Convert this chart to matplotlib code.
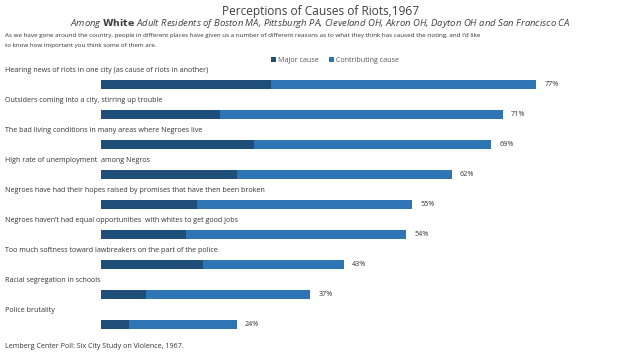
import matplotlib
matplotlib.use("Agg")
import matplotlib.pyplot as plt
import matplotlib.transforms as mtransforms

categories = [
    "Hearing news of riots in one city (as cause of riots in another)",
    "Outsiders coming into a city, stirring up trouble",
    "The bad living conditions in many areas where Negroes live",
    "High rate of unemployment  among Negros",
    "Negroes have had their hopes raised by promises that have then been broken",
    "Negroes haven\u2019t had equal opportunities  with whites to get good jobs",
    "Too much softness toward lawbreakers on the part of the police",
    "Racial segregation in schools",
    "Police brutality",
]
totals = [77, 71, 69, 62, 55, 54, 43, 37, 24]
major = [30, 21, 27, 24, 17, 15, 18, 8, 5]
contributing = [t - m for t, m in zip(totals, major)]

dark = "#1F4E79"
light = "#2E75B6"

plt.rcParams['font.family'] = ['Open Sans', 'DejaVu Sans']

fig = plt.figure(figsize=(6.4, 3.6), dpi=100)
W, H = 640, 360
left_px, right_px, top_px, bot_px = 101, 610, 70, 340
ax = fig.add_axes([left_px / W, 1 - bot_px / H, (right_px - left_px) / W, (bot_px - top_px) / H])
ax.set_xlim(0, 90)
ax.set_ylim(8.53, -0.5)
ax.axis('off')

ys = list(range(len(categories)))
ax.barh(ys, major, height=0.3, color=dark, label="Major cause")
ax.barh(ys, contributing, left=major, height=0.3, color=light, label="Contributing cause")

blend = mtransforms.blended_transform_factory(fig.transFigure, ax.transData)
for i, (c, t) in enumerate(zip(categories, totals)):
    ax.text(5 / W, i, c, transform=mtransforms.offset_copy(blend, fig=fig, x=0, y=14, units='dots'),
            fontsize=5.1, color="#333333", va='center', ha='left')
    ax.annotate(f"{t}%", xy=(t, i), xytext=(8, 0), textcoords='offset pixels',
                fontsize=5.2, color="#333333", va='center', ha='left')

fig.text(0.5, 1 - 12 / H, "Perceptions of Causes of Riots,1967", ha='center', va='center',
         fontsize=8.6, color="#404040")
fig.text(0.5, 1 - 24 / H, "Among $\\bf{White}$ Adult Residents of Boston MA, Pittsburgh PA, Cleveland OH, Akron OH, Dayton OH and San Francisco CA",
         ha='center', va='center', fontsize=6.8, color="#404040", style='italic')
fig.text(5 / W, 1 - 35 / H,
         "As we have gone around the country, people in different places have given us a number of different reasons as to what they think has caused the rioting, and I\u2019d like",
         ha='left', va='center', fontsize=4.5, color="#333333")
fig.text(5 / W, 1 - 46 / H,
         "to know how important you think some of them are.",
         ha='left', va='center', fontsize=4.5, color="#333333")
fig.text(5 / W, 1 - 346 / H, "Lemberg Center Poll: Six City Study on Violence, 1967.",
         ha='left', va='center', fontsize=5.1, color="#333333")

leg = fig.legend(loc='center', bbox_to_anchor=(335 / W, 1 - 60 / H), ncol=2, frameon=False,
                 fontsize=5.1, handlelength=0.7, handleheight=0.7, handletextpad=0.3, columnspacing=1.5)
for t in leg.get_texts():
    t.set_color("#555555")

fig.savefig("out.png", dpi=100)
